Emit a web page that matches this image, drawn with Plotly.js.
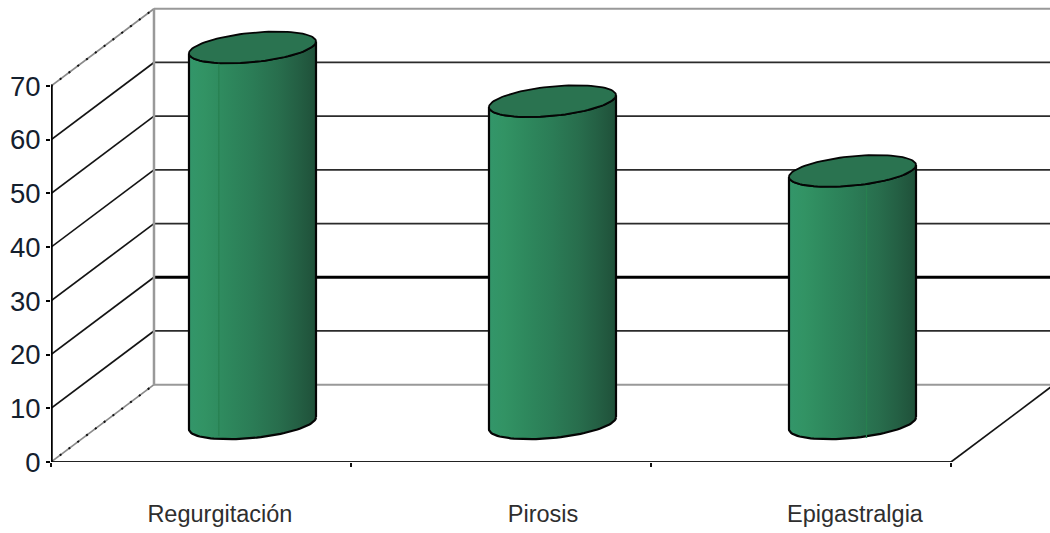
<!DOCTYPE html>
<html>
<head>
<meta charset="utf-8">
<script src="https://cdn.plot.ly/plotly-3.0.1.min.js"></script>
<style>html,body{margin:0;padding:0;background:#fff}#chart{width:1050px;height:533px}</style>
</head>
<body>
<div id="chart"></div>
<script>
// Symptom frequency shown as cylinders in an oblique 3D box.
const categories = ['Regurgitación', 'Pirosis', 'Epigastralgia'];
const values = [70, 60, 47];
const yTicks = [0, 10, 20, 30, 40, 50, 60, 70];
const categoryLabelAt = [0.563, 1.64, 2.68];
const seamFraction = [0.235, null, 0.61];

// Box depth, in axis units: how far the back wall sits from the front plane.
const depthX = 0.3433;
const depthY = 14.4;
// Cylinder footprint: half-widths of the sheared ellipse, in axis units.
const radiusX = 0.196;
const radiusSkewX = 0.08;
const radiusY = 2.95;

const bodyScale = [
  [0, '#33966a'], [0.12, '#329364'], [0.3, '#2e885d'], [0.5, '#2b7c56'],
  [0.7, '#286e4d'], [0.85, '#246044'], [1, '#1f5039']
];
const topColor = '#2a7350';

const traces = [];
const segment = (xs, ys, color, width, dash) => traces.push({
  type: 'scatter', mode: 'lines', x: xs, y: ys, hoverinfo: 'skip', cliponaxis: false,
  line: {color: color, width: width, dash: dash || 'solid'}
});

// Back wall rules and side wall diagonals.
yTicks.forEach(v => {
  const edge = v === 0 || v === 70;
  const ruleColor = edge ? '#999999' : (v === 20 ? '#000000' : '#2b2b2b');
  const ruleWidth = edge ? 2 : (v === 20 ? 3 : 1.8);
  traces.push({
    type: 'scatter', mode: 'lines', x: [depthX, 3 + depthX], y: [v + depthY, v + depthY],
    hoverinfo: 'skip', line: {color: ruleColor, width: ruleWidth}
  });
  segment([0, depthX], [v, v + depthY], edge ? '#8a8a8a' : '#141414', 1.7);
  if (edge) segment([0, depthX], [v, v + depthY], '#111111', 2, '2px,9px');
});
segment([depthX, depthX], [depthY, 70 + depthY], '#999999', 2.5);

// Floor edges and the value axis.
segment([0, 3], [0, 0], '#222222', 2);
segment([3, 3 + depthX], [0, depthY], '#141414', 1.7);
segment([0, 0], [0, 70], '#000000', 3.5);

// One point of a cylinder's sheared ellipse at angle t.
const rim = (cx, cy, t) => [
  cx + radiusX * Math.cos(t) + radiusSkewX * Math.sin(t),
  cy + radiusY * Math.sin(t)
];
// Angle of the rightmost point on the rim; the leftmost is opposite it.
const sideAngle = Math.atan2(radiusSkewX, radiusX);

values.forEach((value, i) => {
  const cx = i + 0.5 + depthX / 2;
  const base = depthY / 2;
  const top = value + depthY / 2;
  const bx = [], by = [], tx = [], ty = [];
  const steps = 48;
  // Lower rim, right to left through the front, then the upper rim back again.
  for (let k = 0; k <= steps; k++) {
    const t = sideAngle - Math.PI * k / steps;
    const p = rim(cx, base, t);
    bx.push(p[0]); by.push(p[1]);
  }
  for (let k = 0; k <= steps; k++) {
    const t = sideAngle - Math.PI + Math.PI * k / steps;
    const p = rim(cx, top, t);
    bx.push(p[0]); by.push(p[1]);
  }
  bx.push(bx[0]); by.push(by[0]);
  traces.push({
    type: 'scatter', mode: 'lines', x: bx, y: by, fill: 'toself', hoverinfo: 'skip',
    line: {color: '#050505', width: 2.2},
    fillgradient: {type: 'horizontal', colorscale: bodyScale}
  });

  // Faint seam where the side shading changes facet.
  if (seamFraction[i] !== null) {
    const left = rim(cx, base, sideAngle + Math.PI)[0];
    const right = rim(cx, base, sideAngle)[0];
    const sx = left + (right - left) * seamFraction[i];
    const u = (sx - cx) / Math.hypot(radiusX, radiusSkewX);
    const drop = radiusY * Math.sqrt(Math.max(0, 1 - u * u)) * 0.95;
    segment([sx, sx], [base - drop, top - drop], '#27804f', 1.2);
  }

  // Top cap.
  for (let k = 0; k <= 2 * steps; k++) {
    const p = rim(cx, top, Math.PI * k / steps);
    tx.push(p[0]); ty.push(p[1]);
  }
  traces.push({
    type: 'scatter', mode: 'lines', x: tx, y: ty, fill: 'toself', fillcolor: topColor,
    hoverinfo: 'skip', line: {color: '#050505', width: 1.8}
  });
});

const layout = {
  width: 1050, height: 533,
  margin: {l: 51, r: 0, t: 0, b: 71},
  paper_bgcolor: '#ffffff', plot_bgcolor: '#ffffff',
  showlegend: false,
  font: {family: '"Liberation Sans", Arial, sans-serif', color: '#2a2a2a'},
  xaxis: {
    range: [0, 3.33], showgrid: false, zeroline: false, showline: false,
    tickmode: 'array', tickvals: categoryLabelAt, ticktext: categories,
    ticks: '', ticklabelstandoff: 35, tickfont: {size: 23.5, color: '#2e2e2e'},
    minor: {tickmode: 'array', tickvals: [0, 1, 2, 3], ticks: 'outside', ticklen: 4, tickwidth: 1.5, tickcolor: '#111111'}
  },
  yaxis: {
    range: [0, 86.03], showgrid: false, zeroline: false, showline: false,
    tickmode: 'array', tickvals: yTicks, ticktext: yTicks.map(String),
    ticks: 'outside', ticklen: 4, tickwidth: 2, tickcolor: '#000000',
    tickfont: {size: 27.5, color: '#14202e'}
  }
};

Plotly.newPlot('chart', traces, layout, {staticPlot: true, displayModeBar: false});
</script>
</body>
</html>
